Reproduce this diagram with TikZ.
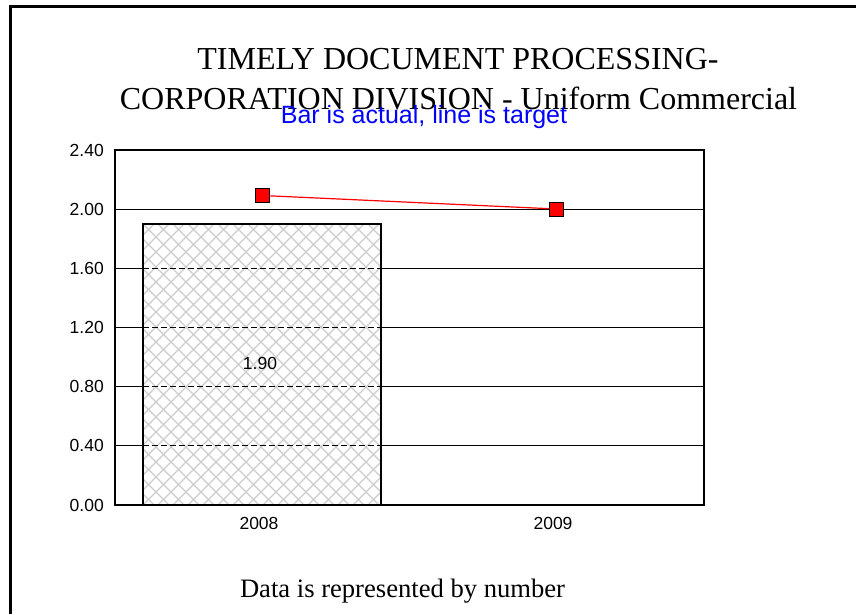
\documentclass[tikz,border=0pt]{standalone}
\usepackage{fontspec}
\setmainfont{Liberation Serif}
\newfontfamily\chartsans{Liberation Sans}
\begin{document}
\begin{tikzpicture}[x=1pt,y=-1pt,
    ticklbl/.style={font=\chartsans\fontsize{17.5}{17.5}\selectfont,inner sep=0pt},
    marker/.style={draw=black,fill=red,minimum size=14pt,inner sep=0pt,line width=1pt}]
    \useasboundingbox (0,0) rectangle (856,614);
    % outer frame (left and top only)
    \draw[line width=3pt] (10.5,614) -- (10.5,6) -- (856,6);
    % titles
    \node[anchor=base,inner sep=0pt,font=\fontsize{32}{40}\selectfont] (title1) at (458,69) {TIMELY DOCUMENT PROCESSING-};
    \node[anchor=base,inner sep=0pt,font=\fontsize{32}{40}\selectfont] (title2) at (458.5,109) {CORPORATION DIVISION - Uniform Commercial};
    \node[anchor=base,inner sep=0pt,text=blue,font=\chartsans\fontsize{25}{25}\selectfont] (sub) at (424,123) {Bar is actual, line is target};
    % bar with cross hatch
    \begin{scope}
        \clip (143,224) rectangle (381,505);
        \foreach \k in {-285,-270,...,240} {
            \draw[gray!40,line width=1.3pt] (143+\k,505) -- ++(281,-281);
            \draw[gray!40,line width=1.3pt] (143+\k,224) -- ++(281,281);
        }
    \end{scope}
    % grid lines
    \foreach \v/\y in {0.40/445.8,0.80/386.7,1.20/327.5,1.60/268.4} {
        \draw[line width=1.2pt] (115,\y) -- (143,\y);
        \draw[line width=1.2pt] (381,\y) -- (704,\y);
        \draw[line width=1.2pt,dash pattern=on 6pt off 3pt] (143,\y) -- (381,\y);
    }
    \draw[line width=1.2pt] (115,209.2) -- (704,209.2);
    \draw[line width=1.2pt] (143,505) rectangle (381,224);
    \draw[line width=1.2pt] (115,150) rectangle (704,505);
    % y labels
    \foreach \v/\y in {0.00/505,0.40/445.8,0.80/386.7,1.20/327.5,1.60/268.4,2.00/209.2,2.40/150}
        \node[ticklbl,anchor=east] (y\v) at (104,\y) {\v};
    % categories and value
    \node[ticklbl] (c2008) at (259,523) {2008};
    \node[ticklbl] (c2009) at (553,523) {2009};
    \node[ticklbl] (val) at (260,363) {1.90};
    % target line
    \node[marker] (m2008) at (262.5,195.5) {};
    \node[marker] (m2009) at (556.5,209) {};
    \draw[red,line width=1.2pt] (m2008) -- (m2009);
    % footnote
    \node[anchor=base,inner sep=0pt,font=\fontsize{26.6}{30}\selectfont] (note) at (402.5,597) {Data is represented by number};
\end{tikzpicture}
\end{document}
